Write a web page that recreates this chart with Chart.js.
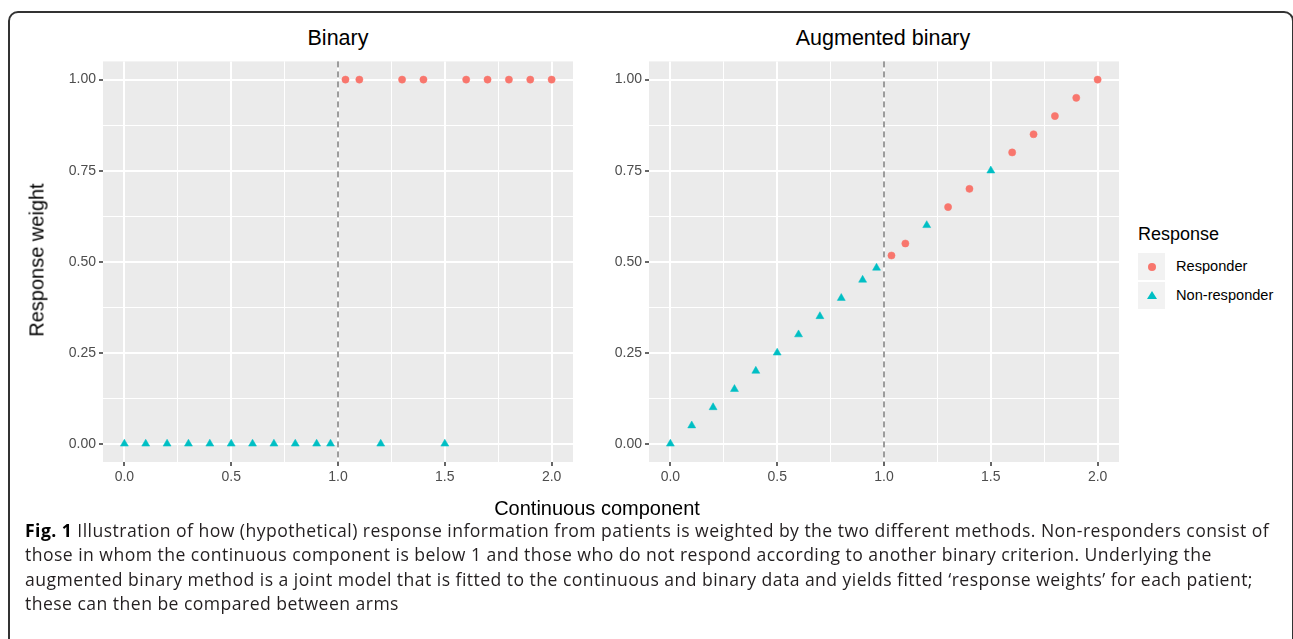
<!DOCTYPE html>
<html>
<head>
<meta charset="utf-8">
<script src="https://cdn.jsdelivr.net/npm/chart.js"></script>
<style>
  body { margin: 0; background: #fff; width: 1293px; height: 639px; overflow: hidden; position: relative; font-family: "Liberation Sans", Arial, sans-serif; }
  .abs { position: absolute; }
  .frame { left: 8px; top: 11px; width: 1282px; height: 700px; border: 2px solid #333; border-radius: 10px; }
  .ptitle { top: 38px; font-size: 21.5px; color: #000; transform: translate(-50%, -50%); white-space: nowrap; }
  .atitle { font-size: 20px; color: #000; white-space: nowrap; }
  .ltitle { font-size: 18px; color: #000; white-space: nowrap; }
  .key { width: 27px; height: 27px; background: #F2F2F2; }
  .lab { font-size: 14.6px; color: #000; }
  .caption { left: 25px; top: 518px; font-family: "Open Sans", sans-serif; font-size: 17.6px; letter-spacing: 0.45px; line-height: 24.3px; color: #231F20; white-space: nowrap; }
  .caption b { color: #000; }
</style>
</head>
<body>
<div class="abs frame"></div>

<div class="abs ptitle" style="left:338px;">Binary</div>
<div class="abs ptitle" style="left:883px;">Augmented binary</div>

<canvas id="binaryCanvas" class="abs" width="545" height="450" style="left:40px; top:50px;"></canvas>
<canvas id="augCanvas" class="abs" width="545" height="450" style="left:586px; top:50px;"></canvas>

<div class="abs atitle" style="left:37px; top:260px; transform: translate(-50%, -50%) rotate(-90deg);">Response weight</div>
<div class="abs atitle" style="left:597px; top:508px; transform: translate(-50%, -50%);">Continuous component</div>

<!-- legend -->
<div class="abs ltitle" style="left:1138px; top:224px;">Response</div>
<div class="abs key" style="left:1138px; top:253px;"></div>
<div class="abs" style="left:1148px; top:263px; width:8px; height:8px; border-radius:50%; background:#F8766D;"></div>
<div class="abs lab" style="left:1176px; top:258px;">Responder</div>
<div class="abs key" style="left:1138px; top:282px;"></div>
<div class="abs" style="left:1147px; top:291px; width:0; height:0; border-left:5px solid transparent; border-right:5px solid transparent; border-bottom:8px solid #00BFC4;"></div>
<div class="abs lab" style="left:1176px; top:287px;">Non-responder</div>

<div class="abs caption">
<b>Fig. 1</b> Illustration of how (hypothetical) response information from patients is weighted by the two different methods. Non-responders consist of<br>
those in whom the continuous component is below 1 and those who do not respond according to another binary criterion. Underlying the<br>
augmented binary method is a joint model that is fitted to the continuous and binary data and yields fitted ‘response weights’ for each patient;<br>
these can then be compared between arms
</div>

<script>
// continuous component of each patient
const respX = [1.035, 1.1, 1.3, 1.4, 1.6, 1.7, 1.8, 1.9, 2.0];
const nonRespX = [0, 0.1, 0.2, 0.3, 0.4, 0.5, 0.6, 0.7, 0.8, 0.9, 0.965, 1.2, 1.5];

// binary weights
const binaryRespY = [1, 1, 1, 1, 1, 1, 1, 1, 1];
const binaryNonRespY = [0, 0, 0, 0, 0, 0, 0, 0, 0, 0, 0, 0, 0];

// augmented binary weights
const augRespY = [0.517, 0.55, 0.65, 0.7, 0.8, 0.85, 0.9, 0.95, 1.0];
const augNonRespY = [0, 0.05, 0.1, 0.15, 0.2, 0.25, 0.3, 0.35, 0.4, 0.45, 0.483, 0.6, 0.75];

// axis ticks
const xMajor = [0, 0.5, 1, 1.5, 2];
const xMinor = [0.25, 0.75, 1.25, 1.75];
const xLabels = ["0.0", "0.5", "1.0", "1.5", "2.0"];
const yMajor = [0, 0.25, 0.5, 0.75, 1];
const yMinor = [0.125, 0.375, 0.625, 0.875];
const yLabels = ["0.00", "0.25", "0.50", "0.75", "1.00"];
const cutoff = 1;

const tickFont = { family: "Liberation Sans", size: 14 };

const panelBg = {
  id: "panelBg",
  beforeDraw(chart) {
    const a = chart.chartArea, c = chart.ctx;
    c.save();
    c.fillStyle = "#EBEBEB";
    c.fillRect(a.left, a.top, a.right - a.left, a.bottom - a.top);
    c.restore();
  }
};

const cutLine = {
  id: "cutLine",
  beforeDatasetsDraw(chart) {
    const a = chart.chartArea, c = chart.ctx;
    const x = chart.scales.x.getPixelForValue(cutoff);
    c.save();
    c.strokeStyle = "#3a3a3a";
    c.lineWidth = 1;
    c.setLineDash([6, 4]);
    c.beginPath();
    c.moveTo(x, a.top);
    c.lineTo(x, a.bottom);
    c.stroke();
    c.restore();
  }
};

function makeAxis(min, max, major, minor, labels, isX) {
  const all = major.concat(minor).sort((a, b) => a - b);
  return {
    type: "linear",
    min: min,
    max: max,
    afterBuildTicks: s => { s.ticks = all.map(v => ({ value: v })); },
    afterFit: s => { if (isX) s.height = 38; else s.width = 63; },
    border: { display: false },
    grid: {
      color: "#FFFFFF",
      lineWidth: ctx => major.includes(ctx.tick.value) ? 2 : 1,
      tickColor: ctx => major.includes(ctx.tick.value) ? "#333333" : "rgba(0,0,0,0)",
      tickWidth: 1.5,
      tickLength: 4
    },
    ticks: {
      autoSkip: false,
      maxRotation: 0,
      color: "#4D4D4D",
      font: tickFont,
      padding: 3,
      callback: v => {
        const i = major.indexOf(v);
        return i >= 0 ? labels[i] : "";
      }
    }
  };
}

function toPoints(xs, ys) {
  return xs.map((x, i) => ({ x: x, y: ys[i] }));
}

function makePanel(id, respY, nonRespY) {
  new Chart(document.getElementById(id), {
    type: "scatter",
    data: {
      datasets: [
        {
          label: "Responder",
          data: toPoints(respX, respY),
          pointStyle: "circle",
          pointRadius: 3.6,
          backgroundColor: "#F8766D",
          borderColor: "#F8766D",
          borderWidth: 0.5
        },
        {
          label: "Non-responder",
          data: toPoints(nonRespX, nonRespY),
          pointStyle: "triangle",
          pointRadius: 4.6,
          backgroundColor: "#00BFC4",
          borderColor: "#00BFC4",
          borderWidth: 0.5
        }
      ]
    },
    options: {
      responsive: false,
      animation: false,
      events: [],
      layout: { padding: { top: 8, right: 12, left: 0, bottom: 0 } },
      plugins: { legend: { display: false }, tooltip: { enabled: false } },
      scales: {
        x: makeAxis(-0.1, 2.1, xMajor, xMinor, xLabels, true),
        y: makeAxis(-0.05, 1.05, yMajor, yMinor, yLabels, false)
      }
    },
    plugins: [panelBg, cutLine]
  });
}

makePanel("binaryCanvas", binaryRespY, binaryNonRespY);
makePanel("augCanvas", augRespY, augNonRespY);
</script>
</body>
</html>
